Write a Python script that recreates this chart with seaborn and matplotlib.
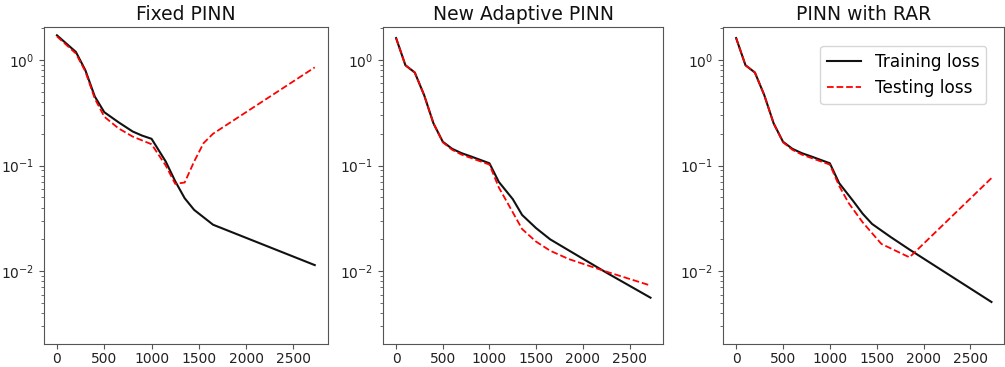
import matplotlib
matplotlib.use("Agg")
import matplotlib.pyplot as plt
import seaborn as sns
import pandas as pd

# ---------------- data ----------------
titles = ["Fixed PINN", "New Adaptive PINN", "PINN with RAR"]
series_labels = ["Training loss", "Testing loss"]

fixed_train_it = [0, 200, 300, 400, 500, 650, 800, 900, 1000, 1150, 1250, 1350, 1450, 1650, 2725]
fixed_train = [1.71, 1.19, 0.80, 0.45, 0.32, 0.257, 0.21, 0.192, 0.179, 0.109, 0.071, 0.049, 0.038, 0.0275, 0.0114]
fixed_test_it = [0, 200, 300, 400, 500, 650, 800, 1000, 1150, 1250, 1350, 1450, 1550, 1650, 2725]
fixed_test = [1.67, 1.15, 0.78, 0.43, 0.29, 0.225, 0.188, 0.159, 0.10, 0.067, 0.069, 0.109, 0.163, 0.20, 0.85]

ada_train_it = [0, 100, 200, 300, 400, 500, 600, 700, 800, 1000, 1100, 1250, 1350, 1500, 1650, 1850, 2250, 2725]
ada_train = [1.61, 0.89, 0.76, 0.465, 0.251, 0.168, 0.144, 0.131, 0.122, 0.105, 0.070, 0.048, 0.034,
             0.0255, 0.020, 0.0157, 0.0097, 0.0056]
ada_test_it = [0, 100, 200, 300, 400, 500, 600, 700, 800, 1000, 1100, 1250, 1350, 1500, 1650, 1850, 2250, 2725]
ada_test = [1.61, 0.89, 0.76, 0.465, 0.251, 0.166, 0.141, 0.127, 0.118, 0.102, 0.062, 0.036, 0.025,
            0.019, 0.0156, 0.0130, 0.0099, 0.0073]

rar_train_it = [0, 100, 200, 300, 400, 500, 600, 700, 800, 1000, 1100, 1250, 1350, 1450, 1650, 1850, 2725]
rar_train = [1.61, 0.89, 0.76, 0.465, 0.251, 0.168, 0.144, 0.131, 0.122, 0.105, 0.068, 0.046, 0.035,
             0.028, 0.021, 0.016, 0.0051]
rar_test_it = [0, 100, 200, 300, 400, 500, 600, 700, 800, 1000, 1100, 1200, 1350, 1550, 1850, 2725]
rar_test = [1.61, 0.89, 0.76, 0.465, 0.251, 0.166, 0.141, 0.127, 0.118, 0.102, 0.064, 0.0442, 0.029,
            0.0181, 0.0135, 0.076]

panels = [
    (fixed_train_it, fixed_train, fixed_test_it, fixed_test),
    (ada_train_it, ada_train, ada_test_it, ada_test),
    (rar_train_it, rar_train, rar_test_it, rar_test),
]

# ---------------- figure ----------------
W, H = 1005, 367
fig = plt.figure(figsize=(W / 100, H / 100), dpi=100)

lefts = [44, 383.3, 723.3]
widths = [283.7, 280, 281]
top_px, bottom_px = 27, 344

axes = []
for i, (l, w) in enumerate(zip(lefts, widths)):
    ax = fig.add_axes([l / W, 1 - bottom_px / H, w / W, (bottom_px - top_px) / H])
    axes.append(ax)

for i, ax in enumerate(axes):
    tr_it, tr, te_it, te = panels[i]
    sns.lineplot(x=tr_it, y=tr, ax=ax, color="#111111", linewidth=1.5,
                 estimator=None, sort=False, label=series_labels[0])
    sns.lineplot(x=te_it, y=te, ax=ax, color="red", linewidth=1.3, linestyle="--",
                 estimator=None, sort=False, label=series_labels[1])
    ax.set_yscale("log")
    ax.set_ylim(2.04e-3, 2.05)
    ax.set_xlim(-137, 2862)
    ax.set_xticks([0, 500, 1000, 1500, 2000, 2500])
    ax.tick_params(labelsize=10, colors="#222222")
    ax.tick_params(which="both", color="#555555")
    ax.tick_params(axis="x", pad=2)
    ax.set_title(titles[i], fontsize=13.5, pad=5, color="#111111")
    ax.set_xlabel("")
    ax.set_ylabel("")
    for s in ax.spines.values():
        s.set_color("#555555")
    if i < 2:
        ax.get_legend().remove()
    else:
        ax.legend(loc="upper right", bbox_to_anchor=(986 / W, 1 - 46 / H),
                  bbox_transform=fig.transFigure, borderaxespad=0, fontsize=12.2,
                  handlelength=2.0)

fig.savefig("out.png", dpi=100)
